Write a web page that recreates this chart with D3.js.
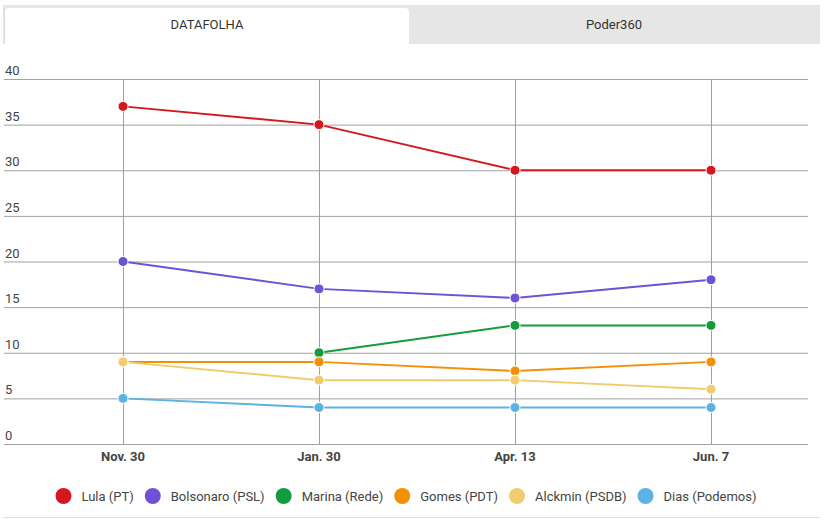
<!DOCTYPE html>
<html><head><meta charset="utf-8">
<script src="https://cdn.jsdelivr.net/npm/d3@7"></script>
<style>body{margin:0;background:#fff;font-family:Roboto,"Noto Sans",sans-serif;}</style>
</head><body>
<svg id="c" width="824" height="525"></svg>
<script>
const categories = ["Nov. 30", "Jan. 30", "Apr. 13", "Jun. 7"];
const seriesNames = ["Lula (PT)", "Bolsonaro (PSL)", "Marina (Rede)", "Gomes (PDT)", "Alckmin (PSDB)", "Dias (Podemos)"];
const colors = ["#d5171f", "#6d52d8", "#129c3e", "#f39005", "#f1cc6f", "#5bb2e3"];
const lula = [37, 35, 30, 30];
const bolsonaro = [20, 17, 16, 18];
const marina = [null, 10, 13, 13];
const gomes = [9, 9, 8, 9];
const alckmin = [9, 7, 7, 6];
const dias = [5, 4, 4, 4];
const yTicks = [0, 5, 10, 15, 20, 25, 30, 35, 40];
const tabs = ["DATAFOLHA", "Poder360"];

const values = [lula, bolsonaro, marina, gomes, alckmin, dias];
const svg = d3.select("#c");

// tabs
svg.append("rect").attr("x",3).attr("y",5).attr("width",817).attr("height",39).attr("fill","#e6e6e6");
svg.append("path").attr("d","M5,44 V12 Q5,8 9,8 H405 Q409,8 409,12 V44 Z").attr("fill","#fff");
svg.append("line").attr("x1",4.5).attr("x2",4.5).attr("y1",8).attr("y2",44).attr("stroke","#d8d8d8");
svg.selectAll(".tab").data(tabs).join("text")
  .attr("x",(d,i)=> i===0 ? 207 : 614).attr("y",29).attr("text-anchor","middle")
  .attr("font-size",13).attr("fill","#333").text(d=>d);

const x = d3.scaleLinear().domain([0, categories.length-1]).range([123, 711]);
const y = d3.scaleLinear().domain([0, 40]).range([444, 79]);
const left = 4, right = 808;

const g = svg.append("g");
g.selectAll(".hg").data(yTicks).join("line")
  .attr("x1",left).attr("x2",right).attr("y1",d=>y(d)+0.5).attr("y2",d=>y(d)+0.5)
  .attr("stroke","#a0a0a0").attr("stroke-width",1);
g.selectAll(".vg").data(categories).join("line")
  .attr("x1",(d,i)=>x(i)+0.5).attr("x2",(d,i)=>x(i)+0.5).attr("y1",79).attr("y2",444)
  .attr("stroke","#a0a0a0").attr("stroke-width",1);
g.selectAll(".yl").data(yTicks).join("text")
  .attr("x",5).attr("y",d=>y(d)-4).attr("font-size",13).attr("fill","#444").text(d=>d);
g.selectAll(".xl").data(categories).join("text")
  .attr("x",(d,i)=>x(i)).attr("y",461).attr("text-anchor","middle")
  .attr("font-size",13).attr("font-weight","bold").attr("fill","#444").text(d=>d);

const line = d3.line().defined(d=>d!=null).x((d,i)=>x(i)).y(d=>y(d));
values.forEach((vals, s) => {
  g.append("path").attr("d", line(vals)).attr("fill","none")
    .attr("stroke", colors[s]).attr("stroke-width", 2);
});
values.forEach((vals, s) => {
  g.selectAll(null).data(vals.map((v,i)=>({v,i})).filter(d=>d.v!=null)).join("circle")
    .attr("cx",d=>x(d.i)).attr("cy",d=>y(d.v)).attr("r",5)
    .attr("fill",colors[s]).attr("stroke","#fff").attr("stroke-width",1);
});

// legend
const lg = svg.append("g");
const gapCT = 18, gapTC = 19, r = 8;
let items = [];
let pos = 0;
seriesNames.forEach((n, s) => {
  const t = lg.append("text").attr("font-size",13).attr("fill","#444").text(n);
  const w = t.node().getComputedTextLength();
  const ccx = pos === 0 && s === 0 ? r : pos + gapTC;
  items.push({t, w, s, ccx});
  pos = ccx + gapCT + w;
});
const total = pos; // from left edge of first circle to end of last text
const shift = 406 - total/2;
items.forEach(it=>{
  lg.append("circle").attr("cx",it.ccx+shift).attr("cy",496).attr("r",r).attr("fill",colors[it.s]);
  it.t.attr("x", it.ccx + shift + gapCT).attr("y", 501);
});
svg.append("line").attr("x1",3).attr("x2",820).attr("y1",517.5).attr("y2",517.5).attr("stroke","#ddd");
</script>
</body></html>
